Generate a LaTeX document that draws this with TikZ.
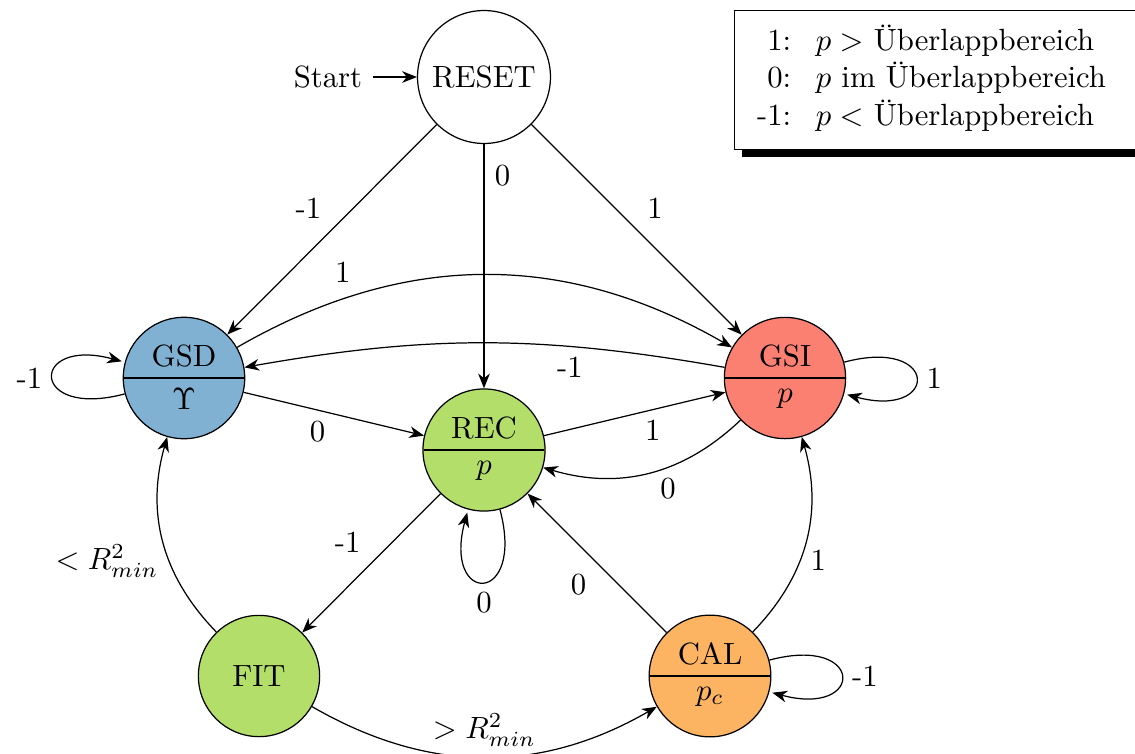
\documentclass[tikz,border=0pt]{standalone}
\usetikzlibrary{shapes.multipart, arrows.meta, shadows}
\definecolor{cblue}{HTML}{80B1D3}
\definecolor{cgreen}{HTML}{B3DE69}
\definecolor{cred}{HTML}{FB8072}
\definecolor{corange}{HTML}{FDB462}
\begin{document}
\begin{tikzpicture}[x=0.3257pt, y=0.3257pt,
  >={Stealth[length=4.8pt,width=3.8pt,inset=1.5pt]},
  state/.style={circle, draw, minimum size=39.5pt, inner sep=3.33pt},
  splitstate/.style={circle split, draw, minimum size=39.5pt},
  conn/.style={->}]
\useasboundingbox (0,0) rectangle (1135,-754);

% states
\node[state, minimum size=43.3pt] (RESET) at (484,-77) {RESET};
\node[splitstate, fill=cblue]   (GSD) at (184,-378) {GSD \nodepart{lower} $\Upsilon$};
\node[splitstate, fill=cred]    (GSI) at (785,-378) {GSI \nodepart{lower} $p$};
\node[splitstate, fill=cgreen]  (REC) at (484,-450) {REC \nodepart{lower} $p$};
\node[state, fill=cgreen]       (FIT) at (259,-676) {FIT};
\node[splitstate, fill=corange] (CAL) at (710,-676) {CAL \nodepart{lower} $p_c$};

% start
\node (start) at (328,-77) {Start};
\draw[conn] (start) -- (RESET);

% legend
\node[draw, fill=white, anchor=north west, inner xsep=3.33pt, inner ysep=4.3pt,
      drop shadow={shadow xshift=2.3pt, shadow yshift=-2.3pt, opacity=1, fill=black}]
  (legend) at (734,-10)
  {\renewcommand{\arraystretch}{1.02}\begin{tabular}{@{\hspace{4pt}}r@{\hspace{8pt}}l@{\hspace{16pt}}}
    1: & $p >$ Überlappbereich\\
    0: & $p$ im Überlappbereich\\
    -1: & $p <$ Überlappbereich
   \end{tabular}};

% transitions
\draw[conn] (RESET) -- node[pos=0.5, above left] {-1} (GSD);
\draw[conn] (RESET) -- node[pos=0.13, right] {0} (REC);
\draw[conn] (RESET) -- node[pos=0.5, above right] {1} (GSI);
\draw[conn] (GSD) to[bend left=30] node[pos=0.25, above left] {1} (GSI);
\draw[conn] (GSI) to[bend right=10] node[pos=0.31, below] {-1} (GSD);
\draw[conn] (GSD) -- node[pos=0.41, below] {0} (REC);
\draw[conn] (REC) -- node[pos=0.6, below] {1} (GSI);
\draw[conn] (GSI) to[bend left=30] node[pos=0.4, below] {0} (REC);
\path (REC) edge[conn, loop below] node[below] {0} ();
\path (GSD) edge[conn, loop left] node[left] {-1} ();
\path (GSI) edge[conn, loop right] node[right] {1} ();
\path (CAL) edge[conn, loop right] node[right] {-1} ();
\draw[conn] (REC) -- node[pos=0.5, above left] {-1} (FIT);
\draw[conn] (CAL) -- node[pos=0.5, below left] {0} (REC);
\draw[conn] (FIT) to[bend left=30] node[pos=0.4, left] {$<R^2_{min}$} (GSD);
\draw[conn] (CAL) to[bend right=30] node[pos=0.4, right] {1} (GSI);
\draw[conn] (FIT) to[bend right=30] node[pos=0.5, above] {$>R^2_{min}$} (CAL);
\end{tikzpicture}
\end{document}
